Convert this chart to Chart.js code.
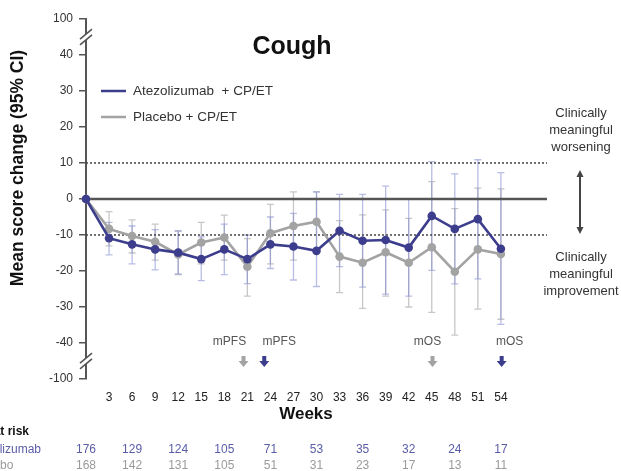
<!DOCTYPE html>
<html>
<head>
<meta charset="utf-8">
<script src="https://cdn.jsdelivr.net/npm/chart.js@4.4.1/dist/chart.umd.min.js"></script>
<style>
  html, body { margin: 0; padding: 0; background: #fff; }
</style>
</head>
<body>
<canvas id="cough-chart" width="621" height="471"></canvas>
<script>
// weeks of assessment
const weeks = [0, 3, 6, 9, 12, 15, 18, 21, 24, 27, 30, 33, 36, 39, 42, 45, 48, 51, 54];
const weekTicks = [3, 6, 9, 12, 15, 18, 21, 24, 27, 30, 33, 36, 39, 42, 45, 48, 51, 54];

// Atezolizumab + CP/ET: mean change and 95% CI
const atezoMean = [0, -10.9, -12.6, -14.0, -14.9, -16.7, -14.0, -16.7, -12.6, -13.2, -14.4, -8.8, -11.6, -11.4, -13.5, -4.7, -8.3, -5.6, -13.8];
const atezoLow = [0, -15.5, -18.0, -19.7, -20.8, -22.7, -21.0, -23.5, -19.3, -22.5, -24.3, -18.8, -24.5, -26.4, -27.0, -19.8, -23.6, -22.2, -34.8];
const atezoHigh = [0, -6.5, -7.5, -8.5, -8.8, -10.5, -7.0, -10.0, -5.0, -4.0, 2.0, 1.3, 1.3, 3.6, 0.0, 10.4, 7.0, 10.9, 7.3];

// Placebo + CP/ET
const placeboMean = [0, -8.3, -10.3, -11.9, -15.4, -12.1, -10.7, -18.8, -9.5, -7.5, -6.3, -16.0, -17.7, -14.8, -17.7, -13.4, -20.2, -14.0, -15.3];
const placeboLow = [0, -13.0, -15.0, -17.0, -21.0, -18.0, -17.0, -27.0, -18.0, -17.0, -14.5, -26.0, -30.4, -27.0, -30.0, -31.5, -37.8, -30.6, -33.4];
const placeboHigh = [0, -3.5, -5.8, -7.0, -9.0, -6.5, -4.5, -11.0, -1.5, 2.0, 2.0, -6.0, -4.4, -3.0, -5.4, 4.8, -2.7, 3.0, 2.8];

// median PFS / OS markers
const milestoneWeeks = [20.5, 23.2, 45.1, 54.1];
const milestoneLabels = ['mPFS', 'mPFS', 'mOS', 'mOS'];
const milestoneArms = ['placebo', 'atezo', 'placebo', 'atezo'];

// patients at risk
const riskWeeks = [0, 6, 12, 18, 24, 30, 36, 42, 48, 54];
const atezoAtRisk = [176, 129, 124, 105, 71, 53, 35, 32, 24, 17];
const placeboAtRisk = [168, 142, 131, 105, 51, 31, 23, 17, 13, 11];

// clinically meaningful threshold
const mcidLines = [10, -10];

const BLUE = '#3d3d8d';
const GRAY = '#a3a3a3';
const FONT = '"Liberation Sans", Arial, sans-serif';
const NARROW = '"Liberation Sans Narrow", "Arial Narrow", "Liberation Sans", sans-serif';

const errorBarPlugin = {
  id: 'errorBars',
  beforeDatasetsDraw(chart) {
    const { ctx, chartArea, scales: { x, y } } = chart;

    const drawBars = (lows, highs, color) => {
      ctx.save();
      ctx.strokeStyle = color;
      ctx.lineWidth = 1.3;
      weeks.forEach((w, i) => {
        if (lows[i] === highs[i]) return;
        const px = x.getPixelForValue(w);
        const top = y.getPixelForValue(highs[i]);
        const bot = y.getPixelForValue(lows[i]);
        ctx.beginPath();
        ctx.moveTo(px, top);
        ctx.lineTo(px, bot);
        ctx.moveTo(px - 3.5, top);
        ctx.lineTo(px + 3.5, top);
        ctx.moveTo(px - 3.5, bot);
        ctx.lineTo(px + 3.5, bot);
        ctx.stroke();
      });
      ctx.restore();
    };
    drawBars(placeboLow, placeboHigh, 'rgba(175,175,175,0.7)');
    drawBars(atezoLow, atezoHigh, 'rgba(125,135,210,0.55)');

    // reference lines
    ctx.save();
    ctx.strokeStyle = '#444';
    ctx.lineWidth = 1.6;
    ctx.setLineDash([2, 2]);
    mcidLines.forEach((v) => {
      const py = y.getPixelForValue(v);
      ctx.beginPath();
      ctx.moveTo(chartArea.left, py);
      ctx.lineTo(chartArea.right, py);
      ctx.stroke();
    });
    ctx.setLineDash([]);
    ctx.strokeStyle = '#555';
    ctx.lineWidth = 2.5;
    const zy = y.getPixelForValue(0);
    ctx.beginPath();
    ctx.moveTo(chartArea.left, zy);
    ctx.lineTo(chartArea.right, zy);
    ctx.stroke();
    ctx.restore();
  }
};

const decorPlugin = {
  id: 'decor',
  afterDraw(chart) {
    const { ctx, chartArea, scales: { x, y } } = chart;
    ctx.save();

    // axis breaks
    [45, -45].forEach((v) => {
      const cy = y.getPixelForValue(v);
      const cx = chartArea.left;
      ctx.fillStyle = '#fff';
      ctx.fillRect(cx - 2, cy - 3, 4, 6);
      ctx.strokeStyle = '#555';
      ctx.lineWidth = 1.6;
      [-2.8, 2.8].forEach((off) => {
        ctx.beginPath();
        ctx.moveTo(cx - 6, cy + off + 5);
        ctx.lineTo(cx + 6, cy + off - 5);
        ctx.stroke();
      });
    });

    // title
    ctx.fillStyle = '#111';
    ctx.textAlign = 'center';
    ctx.textBaseline = 'middle';
    ctx.font = 'bold 25px ' + FONT;
    ctx.fillText('Cough', 292, 47);

    // y axis title
    ctx.save();
    ctx.translate(18, 168);
    ctx.rotate(-Math.PI / 2);
    ctx.font = 'bold 17.5px ' + FONT;
    ctx.fillText('Mean score change (95% CI)', 0, 0);
    ctx.restore();

    // x axis title
    ctx.font = 'bold 17px ' + FONT;
    ctx.fillText('Weeks', 306, 414);

    // legend
    const legend = [
      { text: 'Atezolizumab  + CP/ET', color: BLUE, y: 91 },
      { text: 'Placebo + CP/ET', color: GRAY, y: 117 }
    ];
    legend.forEach((item) => {
      ctx.strokeStyle = item.color;
      ctx.lineWidth = 2.5;
      ctx.beginPath();
      ctx.moveTo(101, item.y);
      ctx.lineTo(126, item.y);
      ctx.stroke();
      ctx.fillStyle = '#333';
      ctx.textAlign = 'left';
      ctx.font = '13.5px ' + FONT;
      ctx.fillText(item.text, 133, item.y);
    });

    // clinically meaningful annotations
    ctx.fillStyle = '#333';
    ctx.textAlign = 'center';
    ctx.font = '13px ' + FONT;
    ['Clinically', 'meaningful', 'worsening'].forEach((t, i) => ctx.fillText(t, 581, 113 + i * 17));
    ['Clinically', 'meaningful', 'improvement'].forEach((t, i) => ctx.fillText(t, 581, 257 + i * 17));
    ctx.strokeStyle = '#444';
    ctx.fillStyle = '#444';
    ctx.lineWidth = 2;
    const ax = 580, a1 = 170, a2 = 234;
    ctx.beginPath();
    ctx.moveTo(ax, a1 + 4);
    ctx.lineTo(ax, a2 - 4);
    ctx.stroke();
    ctx.beginPath();
    ctx.moveTo(ax, a1); ctx.lineTo(ax - 3.5, a1 + 7); ctx.lineTo(ax + 3.5, a1 + 7); ctx.closePath();
    ctx.fill();
    ctx.beginPath();
    ctx.moveTo(ax, a2); ctx.lineTo(ax - 3.5, a2 - 7); ctx.lineTo(ax + 3.5, a2 - 7); ctx.closePath();
    ctx.fill();

    // mPFS / mOS markers
    const textShift = [-14, 15, -5, 8];
    milestoneWeeks.forEach((w, i) => {
      const px = x.getPixelForValue(w);
      const col = milestoneArms[i] === 'atezo' ? BLUE : GRAY;
      ctx.fillStyle = '#555';
      ctx.font = '12px ' + FONT;
      ctx.textAlign = 'center';
      ctx.fillText(milestoneLabels[i], px + textShift[i], 342);
      ctx.fillStyle = col;
      const t = 356;
      ctx.beginPath();
      ctx.moveTo(px - 2, t);
      ctx.lineTo(px + 2, t);
      ctx.lineTo(px + 2, t + 5);
      ctx.lineTo(px + 5, t + 5);
      ctx.lineTo(px, t + 11);
      ctx.lineTo(px - 5, t + 5);
      ctx.lineTo(px - 2, t + 5);
      ctx.closePath();
      ctx.fill();
    });

    // at-risk table
    ctx.textAlign = 'left';
    ctx.fillStyle = '#111';
    ctx.font = 'bold 12px ' + FONT;
    ctx.fillText('No. at risk', -29, 432);
    ctx.font = '12px ' + FONT;
    ctx.fillStyle = '#5a5ca8';
    ctx.fillText('Atezolizumab', -31, 450);
    ctx.fillStyle = '#9a9a9a';
    ctx.fillText('Placebo', -30, 466);
    ctx.textAlign = 'center';
    ctx.font = '12px ' + NARROW;
    riskWeeks.forEach((w, i) => {
      const px = x.getPixelForValue(w);
      ctx.fillStyle = '#5a5ca8';
      ctx.fillText(String(atezoAtRisk[i]), px, 450);
      ctx.fillStyle = '#9a9a9a';
      ctx.fillText(String(placeboAtRisk[i]), px, 466);
    });

    ctx.restore();
  }
};

const ctx = document.getElementById('cough-chart').getContext('2d');
new Chart(ctx, {
  type: 'line',
  data: {
    datasets: [
      {
        label: 'Atezolizumab + CP/ET',
        data: weeks.map((w, i) => ({ x: w, y: atezoMean[i] })),
        borderColor: BLUE,
        backgroundColor: BLUE,
        borderWidth: 2.6,
        pointRadius: 4.3,
        pointBorderWidth: 0,
        tension: 0,
        clip: false
      },
      {
        label: 'Placebo + CP/ET',
        data: weeks.map((w, i) => ({ x: w, y: placeboMean[i] })),
        borderColor: GRAY,
        backgroundColor: GRAY,
        borderWidth: 2.6,
        pointRadius: 4.3,
        pointBorderWidth: 0,
        tension: 0,
        clip: false
      }
    ]
  },
  options: {
    responsive: false,
    animation: false,
    devicePixelRatio: 1,
    layout: { padding: { left: 0, top: 19, right: 74, bottom: 52 } },
    plugins: {
      legend: { display: false },
      tooltip: { enabled: false }
    },
    scales: {
      x: {
        type: 'linear',
        min: 0,
        max: 60,
        afterBuildTicks: (scale) => {
          scale.ticks = weekTicks.map((v) => ({ value: v }));
        },
        afterFit: (scale) => { scale.height = 40; },
        grid: { display: false },
        border: { display: false },
        ticks: {
          font: { family: FONT, size: 12 },
          color: '#222',
          padding: 3,
          maxRotation: 0,
          autoSkip: false
        }
      },
      y: {
        min: -50,
        max: 50,
        afterFit: (scale) => { scale.width = 86; },
        ticks: {
          stepSize: 10,
          font: { family: FONT, size: 12 },
          color: '#333',
          padding: 6,
          callback: (v) => (v === 50 ? '100' : v === -50 ? '-100' : String(v))
        },
        grid: { drawOnChartArea: false, drawTicks: true, tickLength: 7, color: '#555', lineWidth: 1.5 },
        border: { display: true, color: '#555', width: 2 }
      }
    }
  },
  plugins: [errorBarPlugin, decorPlugin]
});
</script>
</body>
</html>
